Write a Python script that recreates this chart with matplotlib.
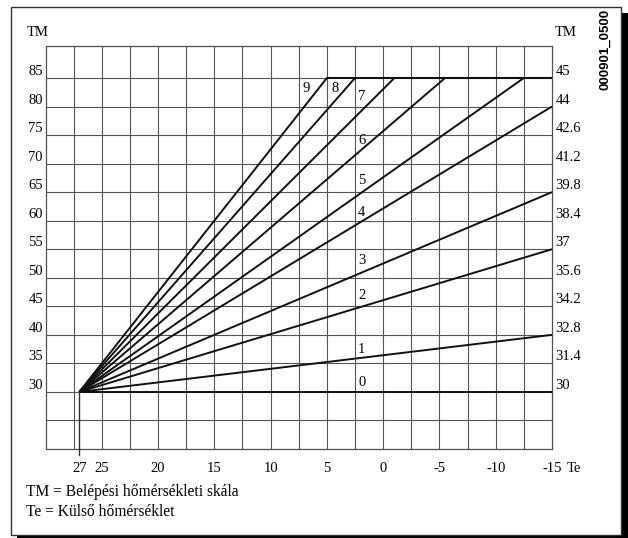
import matplotlib.pyplot as plt
from matplotlib.patches import Rectangle
from matplotlib.transforms import blended_transform_factory

# curve number, outdoor temp where the curve stops rising, flow temp reached there
curve_ids = [0, 1, 2, 3, 4, 5, 6, 7, 8, 9]
end_te = [-15, -15, -15, -15, -15, -12.5, -5.5, -1, 2.5, 5]
end_tm = [30, 40, 55, 65, 80, 85, 85, 85, 85, 85]
start_te = 27
start_tm = 30

# where the curve numbers are written (Te, TM)
label_te = [1.9, 1.9, 1.9, 1.9, 1.9, 1.9, 1.9, 1.9, 4.3, 6.8]
label_tm = [31.7, 37.5, 46.9, 53.1, 61.5, 67.1, 74.0, 81.7, 83.2, 83.2]

# axis scales
te_ticks = [27, 25, 20, 15, 10, 5, 0, -5, -10, -15]
te_grid = [27.5, 25, 22.5, 20, 17.5, 15, 12.5, 10, 7.5, 5, 2.5, 0,
           -2.5, -5, -7.5, -10, -12.5]
tm_left = [30, 35, 40, 45, 50, 55, 60, 65, 70, 75, 80, 85]
tm_right = ["30", "31.4", "32.8", "34.2", "35.6", "37", "38.4", "39.8",
            "41.2", "42.6", "44", "45"]
tm_grid = [25, 30, 35, 40, 45, 50, 55, 60, 65, 70, 75, 80, 85]

W, H = 628, 538
SERIF = ["Liberation Serif", "DejaVu Serif"]
FS = 10.5

fig = plt.figure(figsize=(W / 100, H / 100), dpi=100)

# frame with drop shadow
fig.patches.append(Rectangle((17 / W, 0), (W - 17) / W, (H - 13) / H,
                             transform=fig.transFigure, facecolor="black",
                             edgecolor="none", zorder=0))
fig.patches.append(Rectangle((11 / W, (H - 535) / H), 610 / W, 528 / H,
                             transform=fig.transFigure, facecolor="white",
                             edgecolor="#333333", lw=1.0, zorder=1))

ax = fig.add_axes([45.5 / W, (H - 449) / H, 506.5 / W, 403 / H])
ax.set_zorder(5)
ax.set_xlim(30, -15)
ax.set_ylim(20, 90.6)
ax.patch.set_alpha(0)
ax.set_xticks([])
ax.set_yticks([])
for sp in ax.spines.values():
    sp.set_color("#505050")
    sp.set_linewidth(0.9)

grid_kw = dict(color="#555555", lw=0.8, zorder=1)
for x in te_grid:
    ax.axvline(x, **grid_kw)
for y in tm_grid:
    ax.axhline(y, **grid_kw)

# heating curves
for cid, te, tm in zip(curve_ids, end_te, end_tm):
    ax.plot([start_te, te, -15], [start_tm, tm, tm], color="#111111",
            lw=1.4, solid_capstyle="butt", zorder=3)
ax.plot([start_te, start_te], [start_tm, 18.9], color="#333333", lw=1.0,
        clip_on=False, zorder=3)

for cid, x, y in zip(curve_ids, label_te, label_tm):
    ax.text(x, y, str(cid), family=SERIF, fontsize=FS, ha="center",
            va="center", zorder=4)

# scale labels
left_tr = blended_transform_factory(ax.transAxes, ax.transData)
for v in tm_left:
    ax.text(-0.005, v, str(v), transform=left_tr, family=SERIF, fontsize=FS,
            ha="right", va="bottom")
for v, s in zip(tm_left, tm_right):
    ax.text(1.007, v, s, transform=left_tr, family=SERIF, fontsize=FS,
            ha="left", va="bottom")

bottom_tr = blended_transform_factory(ax.transData, fig.transFigure)
for v in te_ticks:
    ax.text(v, 1 - 469 / H, str(v), transform=bottom_tr, family=SERIF,
            fontsize=FS, ha="center", va="center")

fig.text(574 / W, 1 - 469 / H, "Te", family=SERIF, fontsize=FS,
         ha="center", va="center", zorder=6)
fig.text(38 / W, 1 - 33 / H, "TM", family=SERIF, fontsize=FS,
         ha="center", va="center", zorder=6)
fig.text(566 / W, 1 - 33 / H, "TM", family=SERIF, fontsize=FS,
         ha="center", va="center", zorder=6)

fig.text(26 / W, 1 - 492 / H, "TM = Belépési hőmérsékleti skála",
         family=SERIF, fontsize=11.2, ha="left", va="center", zorder=6)
fig.text(26 / W, 1 - 512 / H, "Te = Külső hőmérséklet",
         family=SERIF, fontsize=11.2, ha="left", va="center", zorder=6)

fig.text(605 / W, 1 - 49 / H, "000901_0500", family="Liberation Sans",
         fontweight="bold", fontsize=9.5, rotation=90, ha="center",
         va="center", zorder=6)

fig.savefig("out.png", dpi=100)
